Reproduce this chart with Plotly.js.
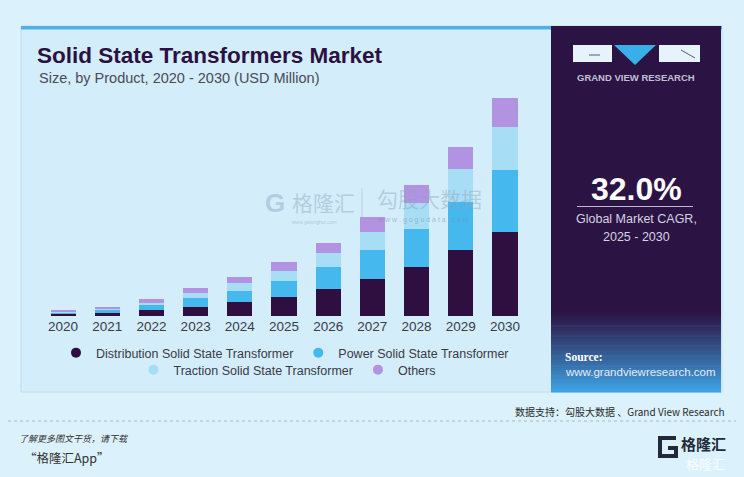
<!DOCTYPE html>
<html>
<head>
<meta charset="utf-8">
<script src="https://cdn.plot.ly/plotly-3.0.1.min.js"></script>
<style>
html,body{margin:0;padding:0;background:#dbf2fc;}
#chart{width:744px;height:477px;}
</style>
</head>
<body>
<div id="chart"></div>
<script>
// ---- data ----
var categories = ['2020','2021','2022','2023','2024','2025','2026','2027','2028','2029','2030'];
var distribution = [7, 13, 25, 41, 62.5, 84, 117, 161, 211, 284, 365];
var power        = [6, 12, 23, 39, 46, 69, 94, 123, 164, 211, 268];
var traction     = [4, 6, 10, 19, 35, 43, 61, 78, 116, 142, 185];
var others       = [7, 9, 14, 22, 25.9, 36, 45, 68, 77, 97, 126];
var seriesNames = ['Distribution Solid State Transformer','Power Solid State Transformer','Traction Solid State Transformer','Others'];
var calloutYear = '2024';
var calloutText = '$169.4M';
var cagrText = '32.0%';

// ---- layout geometry (pixels) ----
var W = 744, H = 477;
var ML = 41, MR = 217, MT = 90, MB = 161;
var PW = W - ML - MR, PH = H - MT - MB;
function X(px){ return (px - ML) / PW; }
function Y(py){ return (H - MB - py) / PH; }

var colors = ['#2e0f3f', '#45b8ee', '#a8ddf6', '#b293e2'];
var seriesValues = [distribution, power, traction, others];

var traces = [];
seriesValues.forEach(function(vals, i){
  traces.push({
    type: 'bar', x: categories, y: vals, name: seriesNames[i],
    marker: {color: colors[i]}, showlegend: false, hoverinfo: 'x+y+name'
  });
});
seriesValues.forEach(function(vals, i){
  traces.push({
    type: 'scatter', mode: 'markers', x: [null], y: [null], name: seriesNames[i],
    marker: {color: colors[i], size: 10, symbol: 'circle'},
    legend: i < 2 ? 'legend' : 'legend2', hoverinfo: 'skip'
  });
});

var idx = categories.indexOf(calloutYear);
var calloutTotal = distribution[idx] + power[idx] + traction[idx] + others[idx];

var shapes = [
  // card
  {type:'rect', xref:'paper', yref:'paper', x0:X(21), x1:X(722), y0:Y(26), y1:Y(392),
   fillcolor:'#d3edfa', line:{color:'#c3dcea', width:1}, layer:'below'},
  {type:'rect', xref:'paper', yref:'paper', x0:X(21), x1:X(722), y0:Y(26), y1:Y(29.5),
   fillcolor:'#4fb0e6', line:{width:0}, layer:'below'},
  // right panel
  {type:'rect', xref:'paper', yref:'paper', x0:X(551), x1:X(721), y0:Y(26), y1:Y(392),
   fillcolor:'#2b1444', line:{width:0}, layer:'below'}
];
// gradient steps for bottom of the right panel
var gTop = 312, gBot = 392, steps = 40;
var c0 = [43,20,68], c1 = [62,165,230];
for (var s = 0; s < steps; s++) {
  var t = (s + 0.5) / steps;
  var c = c0.map(function(v, k){ return Math.round(v + (c1[k] - v) * Math.pow(t, 1.1)); });
  shapes.push({type:'rect', xref:'paper', yref:'paper', x0:X(551), x1:X(721),
    y0:Y(gTop + (gBot - gTop) * s / steps), y1:Y(gTop + (gBot - gTop) * (s + 1) / steps + 0.6),
    fillcolor:'rgb(' + c.join(',') + ')', line:{width:0}, layer:'below'});
}
// faint grid in gradient
for (var g = 0; g < 7; g++) {
  var gy = 326 + g * 10;
  shapes.push({type:'line', xref:'paper', yref:'paper', x0:X(551), x1:X(721), y0:Y(gy), y1:Y(gy),
    line:{color:'rgba(180,205,255,0.08)', width:1}, layer:'below'});
}
// logo
shapes.push({type:'rect', xref:'paper', yref:'paper', x0:X(573), x1:X(612), y0:Y(45), y1:Y(62),
  fillcolor:'#e6f3fb', line:{width:0}, layer:'below'});
shapes.push({type:'path', xref:'paper', yref:'paper',
  path:'M '+X(614)+' '+Y(45)+' L '+X(656)+' '+Y(45)+' L '+X(635)+' '+Y(65)+' Z',
  fillcolor:'#3aaee8', line:{width:0}, layer:'below'});
shapes.push({type:'rect', xref:'paper', yref:'paper', x0:X(659), x1:X(700), y0:Y(45), y1:Y(62),
  fillcolor:'#e6f3fb', line:{width:0}, layer:'below'});
shapes.push({type:'line', xref:'paper', yref:'paper', x0:X(589), x1:X(600), y0:Y(55), y1:Y(55),
  line:{color:'#555a70', width:1}, layer:'below'});
shapes.push({type:'line', xref:'paper', yref:'paper', x0:X(681), x1:X(695), y0:Y(50), y1:Y(58),
  line:{color:'#555a70', width:1}, layer:'below'});
// line under CAGR
shapes.push({type:'line', xref:'paper', yref:'paper', x0:X(577), x1:X(693), y0:Y(206.5), y1:Y(206.5),
  line:{color:'#bdb6cf', width:1.2}, layer:'below'});
// watermark separator
shapes.push({type:'line', xref:'paper', yref:'paper', x0:X(362), x1:X(362), y0:Y(188), y1:Y(222),
  line:{color:'rgba(150,170,190,0.45)', width:1}, layer:'above'});
// footer dashed line
shapes.push({type:'line', xref:'paper', yref:'paper', x0:X(8), x1:X(736), y0:Y(421), y1:Y(421),
  line:{color:'#a9b8c4', width:1, dash:'dot'}, layer:'below'});
// footer logo icon
shapes.push({type:'path', xref:'paper', yref:'paper',
  path:'M '+X(676)+' '+Y(438)+' L '+X(660)+' '+Y(438)+' L '+X(660)+' '+Y(456)+' L '+X(676)+' '+Y(456)+' L '+X(676)+' '+Y(448)+' L '+X(668)+' '+Y(448),
  fillcolor:'rgba(0,0,0,0)', line:{color:'#222a3a', width:4}, layer:'below'});

function ann(px, py, text, size, color, opts){
  var a = {xref:'paper', yref:'paper', x:X(px), y:Y(py), text:text, showarrow:false,
    xanchor:'left', yanchor:'middle', font:{family:'Liberation Sans, Arial, sans-serif', size:size, color:color}};
  if (opts) { for (var k in opts) { if (k === 'font') { for (var f in opts.font) a.font[f] = opts.font[f]; } else a[k] = opts[k]; } }
  return a;
}

var annotations = [
  ann(37, 78, 'Size, by Product, 2020 - 2030 (USD Million)', 14.5, '#4a4a58'),
  {xref:'x', yref:'y', x:calloutYear, y:calloutTotal, text:'<b>' + calloutText + '</b>', showarrow:false,
   yanchor:'bottom', yshift:6, font:{family:'Liberation Sans, Arial, sans-serif', size:14, color:'#3b3b48'}},
  ann(636, 78, '<b>GRAND VIEW RESEARCH</b>', 9.5, '#c3c0d6', {xanchor:'center'}),
  ann(636, 189, '<b>' + cagrText + '</b>', 32, '#ffffff', {xanchor:'center'}),
  ann(636, 219, 'Global Market CAGR,', 12.5, '#d6d2e2', {xanchor:'center'}),
  ann(636, 237, '2025 - 2030', 12.5, '#d6d2e2', {xanchor:'center'}),
  ann(563, 357, '<b>Source:</b>', 11.5, '#ffffff', {font:{family:'Liberation Serif, serif'}}),
  ann(563, 372, 'www.grandviewresearch.com', 11.5, '#e4ecfa'),
  // watermark
  ann(290, 202, '格隆汇', 21, 'rgba(140,165,190,0.45)', {font:{family:'Noto Sans CJK SC'}}),
  ann(263, 203, '<b>G</b>', 26, 'rgba(140,165,190,0.45)'),
  ann(290, 222, 'www.gelonghui.com', 5, 'rgba(140,165,190,0.5)'),
  ann(375, 198, '勾股大数据', 21, 'rgba(140,165,190,0.45)', {font:{family:'Noto Sans CJK SC'}}),
  ann(375, 220, 'w w w . g o g u d a t a . c o m', 7, 'rgba(120,140,165,0.5)'),
  // footer
  ann(727, 411, '数据支持：勾股大数据 、Grand View Research', 10, '#2a2a2a', {xanchor:'right', font:{family:'Noto Sans CJK SC'}}),
  ann(17, 438, '<i>了解更多图文干货，请下载</i>', 9, '#333333', {font:{family:'Noto Sans CJK SC'}}),
  ann(22, 457, '“格隆汇App”', 12.5, '#333333', {font:{family:'Noto Sans CJK SC'}}),
  ann(679, 443, '<b>格隆汇</b>', 15, '#222a3a', {font:{family:'Noto Sans CJK SC'}}),
  ann(684, 463, '格隆汇', 13, 'rgba(255,255,255,0.8)', {font:{family:'Noto Sans CJK SC'}})
];

var legendFont = {family: 'Liberation Sans, Arial, sans-serif', size: 12.5, color: '#3a3a48'};
var layout = {
  width: W, height: H,
  margin: {l: ML, r: MR, t: MT, b: MB, pad: 0},
  paper_bgcolor: '#dbf2fc', plot_bgcolor: 'rgba(0,0,0,0)',
  barmode: 'stack', bargap: 0.43,
  title: {text: '<b>Solid State Transformers Market</b>', x: 37 / W, xanchor: 'left', xref: 'container',
          y: 1 - 55 / H, yanchor: 'middle', yref: 'container',
          font: {family: 'Liberation Sans, Arial, sans-serif', size: 22.5, color: '#2b1142'}},
  xaxis: {type: 'category', showgrid: false, zeroline: false, showline: false, ticks: '',
          tickfont: {family: 'Liberation Sans, Arial, sans-serif', size: 13.5, color: '#3a3a4a'},
          range: [-0.5, categories.length - 0.5], fixedrange: true},
  yaxis: {visible: false, range: [0, 979], fixedrange: true},
  legend: {orientation: 'h', traceorder: 'normal', xref: 'container', yref: 'container', x: 285 / W, xanchor: 'center',
           y: 1 - 353 / H, yanchor: 'middle', itemwidth: 30, bgcolor: 'rgba(0,0,0,0)', font: legendFont},
  legend2: {orientation: 'h', traceorder: 'normal', xref: 'container', yref: 'container', x: 287 / W, xanchor: 'center',
           y: 1 - 370 / H, yanchor: 'middle', itemwidth: 30, bgcolor: 'rgba(0,0,0,0)', font: legendFont},
  shapes: shapes,
  annotations: annotations
};

Plotly.newPlot('chart', traces, layout, {displayModeBar: false, staticPlot: true});
</script>
</body>
</html>
